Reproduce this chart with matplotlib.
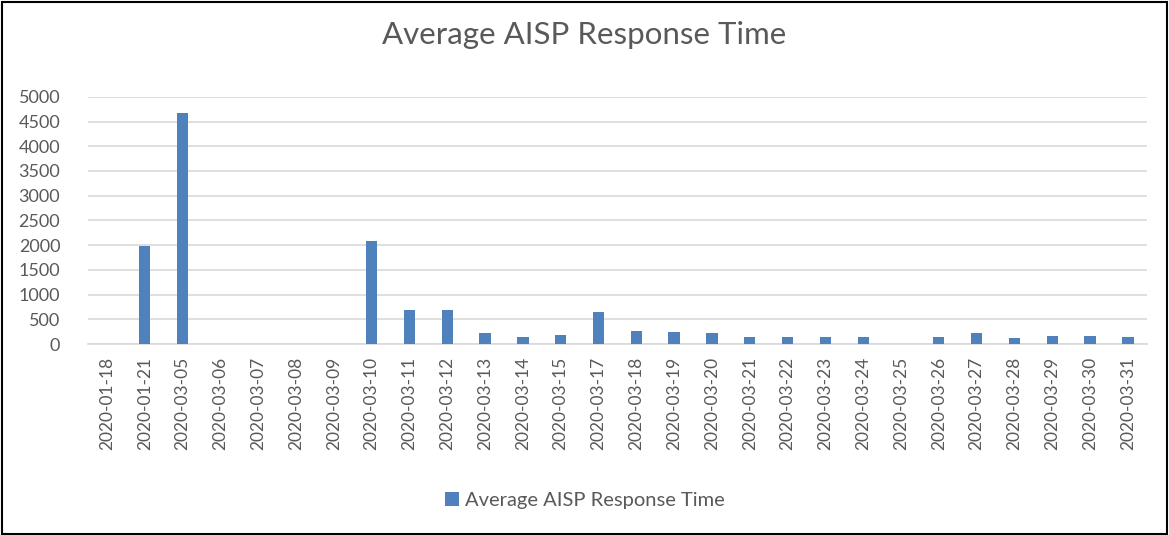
import matplotlib
matplotlib.use("Agg")
import matplotlib.pyplot as plt
from matplotlib.patches import Rectangle

# Data
dates = ["2020-01-18", "2020-01-21", "2020-03-05", "2020-03-06", "2020-03-07",
         "2020-03-08", "2020-03-09", "2020-03-10", "2020-03-11", "2020-03-12",
         "2020-03-13", "2020-03-14", "2020-03-15", "2020-03-17", "2020-03-18",
         "2020-03-19", "2020-03-20", "2020-03-21", "2020-03-22", "2020-03-23",
         "2020-03-24", "2020-03-25", "2020-03-26", "2020-03-27", "2020-03-28",
         "2020-03-29", "2020-03-30", "2020-03-31"]
response_time = [0, 1990, 4675, 0, 0,
                 0, 0, 2080, 680, 685,
                 230, 150, 185, 640, 255,
                 245, 215, 145, 150, 150,
                 145, 0, 145, 230, 125,
                 165, 168, 150]

plt.rcParams["font.family"] = ["Lato", "DejaVu Sans"]
text_col = "#595959"

fig = plt.figure(figsize=(11.69, 5.35), dpi=100)
ax = fig.add_axes([0.0753, 0.357, 0.9057, 0.462])

x = range(len(dates))
ax.bar(x, response_time, width=0.3, color="#4f81bd", label="Average AISP Response Time", zorder=3)

ax.set_xlim(-0.5, len(dates) - 0.5)
ax.set_ylim(0, 5000)
ax.set_yticks(range(0, 5001, 500))
ax.set_xticks(list(x))
ax.set_xticklabels(dates, rotation=90, fontsize=12.5, color=text_col)
ax.tick_params(axis="y", labelsize=13, colors=text_col, length=0, pad=20)
ax.tick_params(axis="x", length=0, pad=9)
ax.grid(axis="y", color="#d9d9d9", linewidth=1.2, zorder=0)
for s in ["top", "right", "left"]:
    ax.spines[s].set_visible(False)
ax.spines["bottom"].set_color("#d9d9d9")
ax.spines["bottom"].set_linewidth(1.2)

fig.suptitle("Average AISP Response Time", y=0.96, fontsize=22.5, color=text_col)
fig.legend(loc="center", bbox_to_anchor=(0.5, 0.065), frameon=False, fontsize=14.5,
           labelcolor=text_col, handlelength=0.7, handleheight=0.7, handletextpad=0.3)

fig.patches.append(Rectangle((0.002, 0.002), 0.996, 0.994, transform=fig.transFigure,
                             fill=False, edgecolor="black", linewidth=1.5))

fig.savefig("out.png", dpi=100)
